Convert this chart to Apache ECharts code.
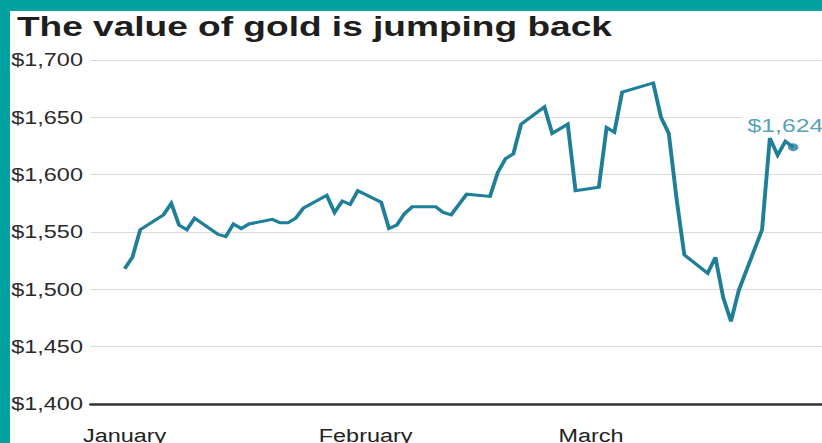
<!DOCTYPE html>
<html>
<head>
<meta charset="utf-8">
<script src="https://cdn.jsdelivr.net/npm/echarts@6/dist/echarts.min.js"></script>
<style>
  html, body { margin: 0; padding: 0; background: #fff; width: 822px; height: 443px; overflow: hidden; }
  /* chart is laid out narrow and widened horizontally */
  #chart { position: absolute; left: 0; top: 0; width: 632px; height: 443px;
           transform: scaleX(1.3006); transform-origin: 0 0; }
  .band { position: absolute; background: #00a39f; }
</style>
</head>
<body>
<div id="chart"></div>
<div class="band" style="left:0;top:0;width:822px;height:11px"></div>
<div class="band" style="left:0;top:0;width:10px;height:443px"></div>
<script>
// Gold price, daily close (USD per ounce)
const titleText = 'The value of gold is jumping back';

const dates = [
  '2020-01-01','2020-01-02','2020-01-03','2020-01-06','2020-01-07','2020-01-08','2020-01-09','2020-01-10',
  '2020-01-13','2020-01-14','2020-01-15','2020-01-16','2020-01-17',
  '2020-01-20','2020-01-21','2020-01-22','2020-01-23','2020-01-24',
  '2020-01-27','2020-01-28','2020-01-29','2020-01-30','2020-01-31',
  '2020-02-03','2020-02-04','2020-02-05','2020-02-06','2020-02-07',
  '2020-02-10','2020-02-11','2020-02-12','2020-02-13','2020-02-14',
  '2020-02-17','2020-02-18','2020-02-19','2020-02-20','2020-02-21',
  '2020-02-24','2020-02-25','2020-02-26','2020-02-27','2020-02-28',
  '2020-03-02','2020-03-03','2020-03-04','2020-03-05','2020-03-06',
  '2020-03-09','2020-03-10','2020-03-11','2020-03-12','2020-03-13',
  '2020-03-16','2020-03-17','2020-03-18','2020-03-19','2020-03-20',
  '2020-03-23','2020-03-24','2020-03-25','2020-03-26','2020-03-27'
];

const prices = [
  1518, 1528, 1552, 1565, 1575, 1556, 1552, 1562,
  1548, 1546, 1557, 1553, 1557,
  1561, 1558, 1558, 1562, 1571,
  1582, 1567, 1577, 1574, 1586,
  1576, 1553, 1556, 1566, 1572,
  1572, 1567, 1565, 1574, 1583,
  1581, 1602, 1614, 1618, 1644,
  1659, 1636, 1640, 1644, 1586,
  1589, 1641, 1637, 1672, 1674,
  1680, 1650, 1636, 1579, 1530,
  1514, 1528, 1493, 1472, 1499,
  1552, 1632, 1617, 1629, 1624
];

const monthStarts = ['2020-01-01', '2020-02-01', '2020-03-01'];
const monthNames = ['January', 'February', 'March'];

const yMin = 1400, yMax = 1700, yStep = 50;

const lineColor = '#1f7f98';
const textFont = '"Liberation Sans", Arial, Helvetica, sans-serif';

function utc(s) {
  const [y, m, d] = s.split('-').map(Number);
  return Date.UTC(y, m - 1, d);
}
function money(v) {
  return '$' + Number(v).toLocaleString('en-US');
}

const series = dates.map((d, i) => [utc(d), prices[i]]);
const last = series[series.length - 1];
const monthTs = monthStarts.map(utc);

const chart = echarts.init(document.getElementById('chart'), null, { renderer: 'svg' });
chart.setOption({
  animation: false,
  backgroundColor: '#fff',
  title: {
    text: titleText,
    left: 8,
    top: 7,
    textStyle: { fontFamily: textFont, fontWeight: 'bold', fontSize: 28.5, color: '#1e1e1e' }
  },
  grid: { left: 69.7, right: 0, top: 60, bottom: 39, containLabel: false, outerBoundsMode: 'none' },
  xAxis: {
    // time positions as millisecond timestamps
    type: 'value',
    min: Date.UTC(2019, 11, 27, 15),
    max: Date.UTC(2020, 2, 30, 17),
    axisLine: { show: true, lineStyle: { color: '#333', width: 2.5 } },
    axisTick: { show: false },
    splitLine: { show: false },
    axisLabel: {
      customValues: monthTs,
      formatter: (v) => monthNames[new Date(v).getUTCMonth()],
      fontFamily: textFont,
      fontSize: 18,
      color: '#222',
      margin: 23,
      showMinLabel: true,
      showMaxLabel: true,
      hideOverlap: false
    }
  },
  yAxis: {
    type: 'value',
    min: yMin,
    max: yMax,
    interval: yStep,
    axisLine: { show: false },
    axisTick: { show: false },
    splitLine: { show: true, lineStyle: { color: '#dadada', width: 1 } },
    axisLabel: {
      formatter: money,
      fontFamily: textFont,
      fontSize: 18,
      color: '#2a2a2a',
      align: 'left',
      margin: 61
    }
  },
  series: [
    {
      type: 'line',
      data: series,
      symbol: 'none',
      lineStyle: { color: lineColor, width: 3, join: 'miter' },
      z: 3
    },
    {
      type: 'scatter',
      data: [last],
      symbol: 'circle',
      symbolSize: 8,
      itemStyle: { color: lineColor },
      z: 4,
      label: {
        show: true,
        position: 'top',
        distance: 8,
        offset: [-8, 0],
        formatter: (p) => money(p.value[1]),
        fontFamily: textFont,
        fontSize: 19,
        color: '#2a88a1',
        backgroundColor: '#fff',
        padding: [2, 1, 0, 5]
      }
    }
  ]
});
</script>
</body>
</html>
